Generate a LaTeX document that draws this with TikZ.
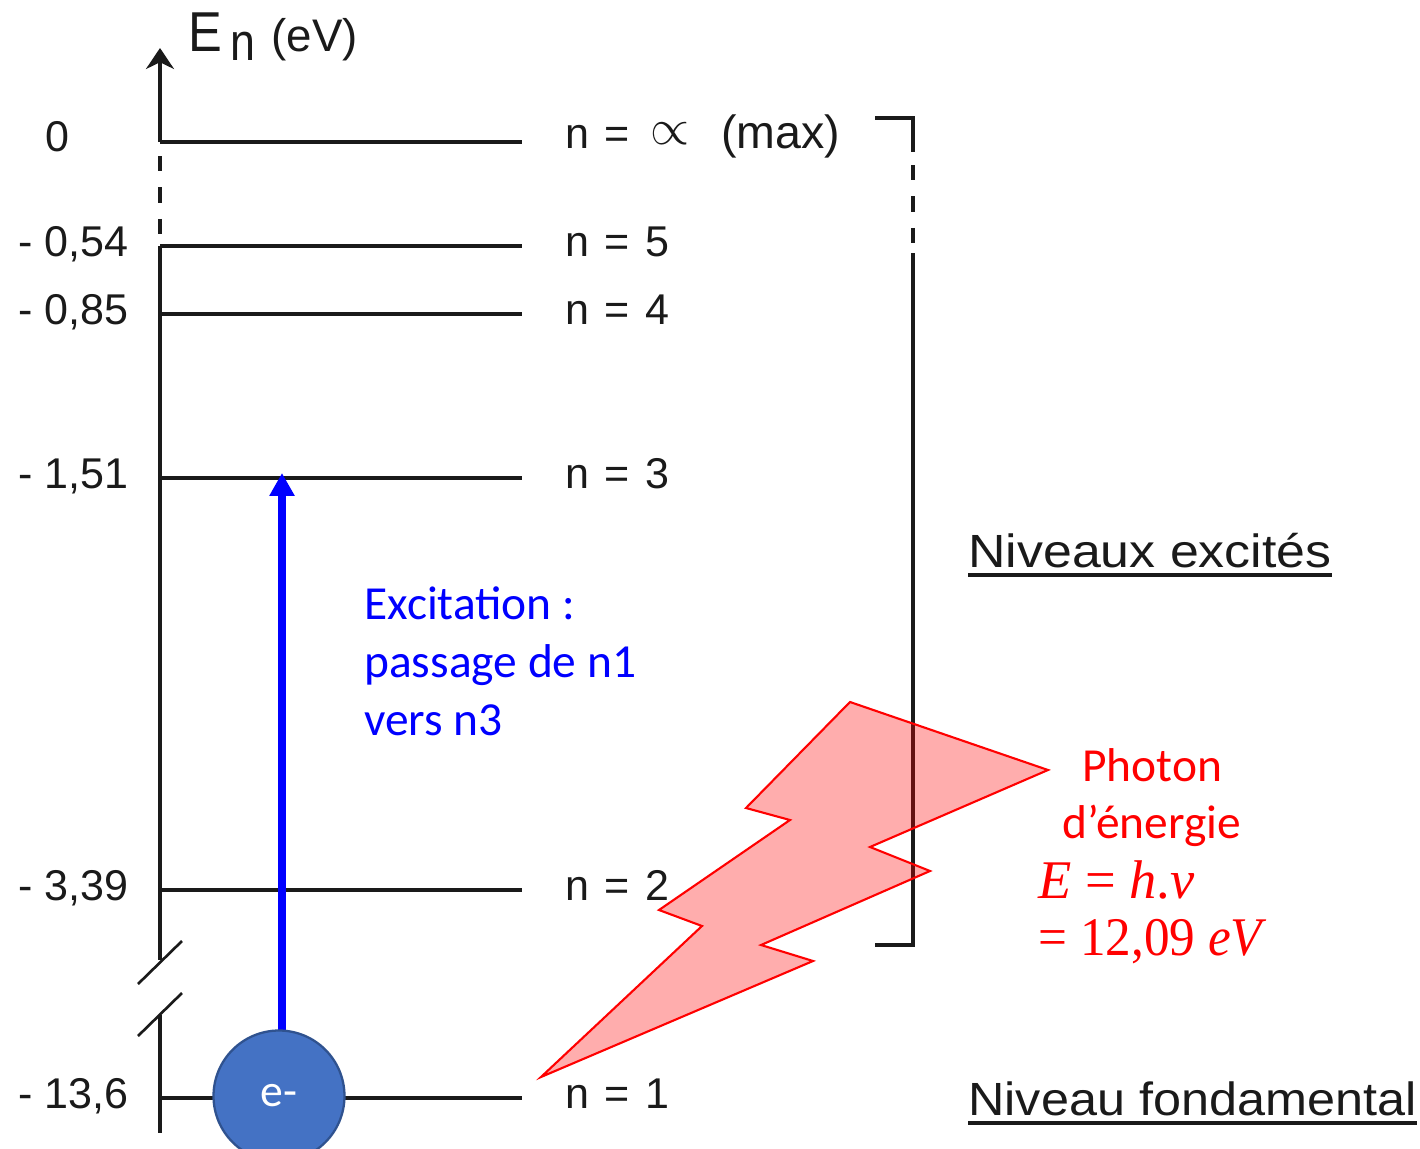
\documentclass[tikz,border=0pt]{standalone}
\usepackage{fontspec}
\setmainfont{Liberation Sans}
\newfontfamily\calibri{Carlito}
\newfontfamily\cambria{Liberation Serif}
\usetikzlibrary{arrows.meta, positioning, shapes.geometric}
\definecolor{cnoir}{HTML}{1A1A1A}
\definecolor{cbleu}{HTML}{0000FF}
\definecolor{crouge}{HTML}{FF0000}
\definecolor{celec}{HTML}{4472C4}
\definecolor{celecb}{HTML}{2F528F}
\newcommand{\niv}[1]{n\hspace{0.36em}=\hspace{0.36em}#1}
\newcommand{\cam}{\cambria\fontsize{31}{32.5}\selectfont}
\tikzset{
  trait/.style={draw=cnoir, line width=2pt},
  tirets/.style={trait, dash pattern=on 0.31cm off 0.32cm},
  biais/.style={draw=cnoir, line width=1.5pt},
  etiq/.style={anchor=base west, inner sep=0pt, text=cnoir, font=\fontsize{24.5}{30}\selectfont},
  titre/.style={etiq, font=\fontsize{26.5}{30}\selectfont},
  bleu/.style={anchor=north west, inner sep=0pt, align=left, text=cbleu, font=\calibri\fontsize{27}{33}\selectfont},
  rouge/.style={inner sep=0pt, text=crouge, font=\calibri\fontsize{27}{32.5}\selectfont},
  excit/.style={-{Triangle[length=0.46cm, width=0.48cm]}, draw=cbleu, line width=5pt},
  electron/.style={circle, draw=celecb, line width=1.3pt, fill=celec, minimum size=2.62cm, inner sep=0pt, text=white, font=\calibri\fontsize{26}{30}\selectfont},
  eclair/.style={draw=crouge, line width=1.2pt, fill=crouge, fill opacity=0.32, line join=miter},
}
\begin{document}
\begin{tikzpicture}[x=0.02cm, y=-0.02cm]
  \clip (0,0) rectangle (1420,1149);
  % niveaux d'energie
  \foreach \y/\en/\xen/\i/\txt in {142/0/45/0/{\raisebox{2pt}{\niv{}\hspace{3pt}\raisebox{2pt}{\scalebox{1.15}{$\propto$}}\hspace{18pt}\fontsize{26.5}{30}\selectfont(max)}}, 246/{- 0,54}/18/5/\niv{5}, 314/{- 0,85}/18/4/\niv{4}, 478/{- 1,51}/18/3/\niv{3}, 890/{- 3,39}/18/2/\niv{2}, 1098/{- 13,6}/18/1/\niv{1}} {
    \coordinate (g\i) at (160,\y);
    \coordinate (d\i) at (522,\y);
    \draw[trait] (g\i) -- (d\i);
    \node[etiq] (en\i) at (\xen,\y+10) {\en};
    \node[etiq] (n\i) at (565,\y+10) {\txt};
  }
  % axe vertical, coupe en deux endroits
  \coordinate (pointe) at (160,48);
  \coordinate (tir0) at (160,156);
  \coordinate (tir1) at (160,246);
  \coordinate (cp1) at (160,960);
  \coordinate (cp2) at (160,1015);
  \coordinate (bas) at (160,1133);
  \draw[trait, -{Stealth[length=0.42cm, width=0.56cm]}] (g0) -- (pointe);
  \draw[tirets] (tir0) -- (tir1);
  \draw[trait] (g5) -- (cp1);
  \draw[trait] (cp2) -- (bas);
  \draw[biais] (138,984) -- (182,941);
  \draw[biais] (138,1036) -- (182,993);
  \node[etiq] (axe) at (188,52) {\fontsize{32}{36}\selectfont\scalebox{0.9}[1]{E}\hspace{5pt}\raisebox{-5pt}{\fontsize{30}{36}\selectfont\scalebox{0.85}[1]{n}}\hspace{9pt}\fontsize{26}{30}\selectfont (eV)};
  % accolade de droite
  \coordinate (acc0) at (875,118);
  \coordinate (acc1) at (913,118);
  \coordinate (acc2) at (913,152);
  \coordinate (acc3) at (913,165);
  \coordinate (acc4) at (913,245);
  \coordinate (acc5) at (913,253);
  \coordinate (acc6) at (913,945);
  \coordinate (acc7) at (875,945);
  \draw[trait] (acc0) -- (acc1) -- (acc2);
  \draw[tirets] (acc3) -- (acc4);
  \draw[trait] (acc5) -- (acc6) -- (acc7);
  \node[titre] (exc) at (968,567) {\scalebox{1.114}[1]{Niveaux excités}};
  \node[titre] (fond) at (968,1115) {\scalebox{1.082}[1]{Niveau fondamental}};
  \draw[trait] ([yshift=-4.5pt]exc.base west) -- ([yshift=-4.5pt]exc.base east);
  \draw[trait] ([yshift=-4.5pt]fond.base west) -- ([yshift=-4.5pt]fond.base east);
  % excitation
  \coordinate (depart) at (282,1040);
  \coordinate (arrivee) at (282,473);
  \draw[excit] (depart) -- (arrivee);
  \node[electron] (elec) at (279,1096) {e-};
  \node[bleu] (txtexc) at (364,586) {Excitation :\\passage de n1\\vers n3};
  % photon
  \draw[eclair] (850,702) -- (1048,770) -- (870,847) -- (930,871) -- (761,945) -- (813,961) -- (541,1077) -- (702,926) -- (659,910) -- (790,820) -- (746,808) -- cycle;
  \node[rouge, align=center] (txtph) at (1152,798) {Photon\\d’énergie};
  \node[rouge, anchor=north west, align=left] (form) at (1038,860) {\cam\itshape E {\upshape =} h{\upshape .}ν\\\cam\scalebox{0.94}[1]{{\upshape = 12,09} \itshape eV}};
\end{tikzpicture}
\end{document}
